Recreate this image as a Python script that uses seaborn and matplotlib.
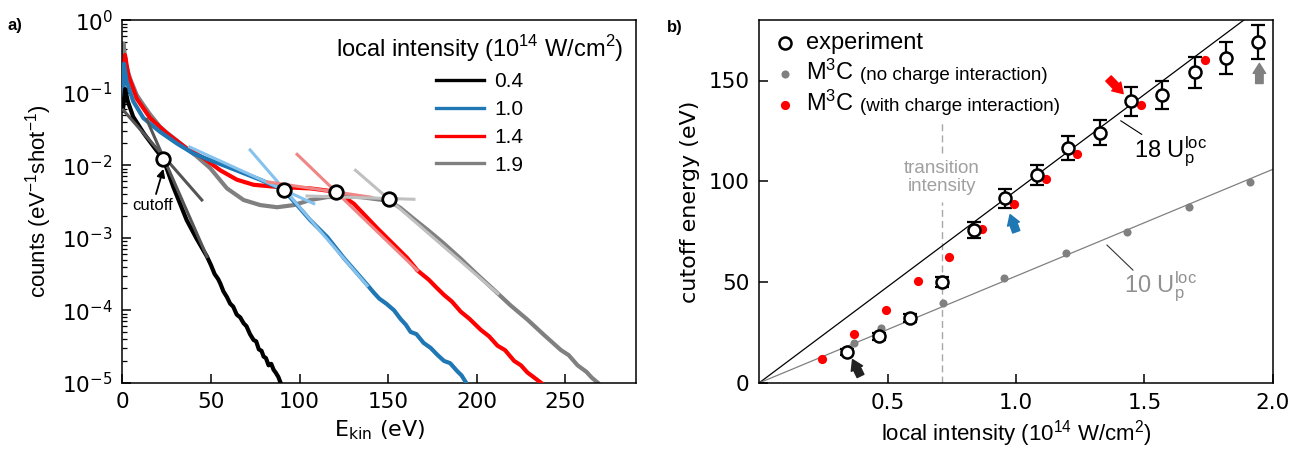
import matplotlib
matplotlib.use("Agg")
import matplotlib.pyplot as plt
import matplotlib.transforms as mtransforms
import numpy as np
import seaborn as sns
from matplotlib.lines import Line2D
from matplotlib.font_manager import FontProperties

# ---- panel a) photoelectron spectra (E in eV, log10 of counts)
E_04 = [0.2, 1.5, 3.0, 6.0, 12.0, 19.0, 23.0, 28.7, 36.3, 42.0, 47.7, 50.0, 52.0, 54.0, 55.2,
        57.0, 59.0, 60.8, 62.5, 64.5, 66.5, 68.4, 70.0, 72.0, 74.0, 75.5, 77.0, 78.5, 79.7, 81.0,
        82.5, 84.0, 85.3, 86.5, 88.0, 89.1]
L_04 = [-1.25, -0.95, -1.12, -1.33, -1.56, -1.79, -1.91, -2.30, -2.76, -3.02, -3.26, -3.38, -3.50,
        -3.57, -3.63, -3.74, -3.82, -3.91, -3.95, -4.06, -4.10, -4.18, -4.22, -4.33, -4.41, -4.43,
        -4.54, -4.56, -4.64, -4.66, -4.76, -4.74, -4.82, -4.86, -4.92, -4.99]
E_10 = [0.2, 0.85, 2.4, 6.1, 11.8, 21.2, 30.7, 40.1, 49.5, 59.0, 68.4, 77.8, 91.0, 98.6, 106.1,
        115.6, 125.0, 138.2, 142.0, 145.0, 149.0, 153.3, 157.0, 160.0, 162.7, 166.0, 170.0, 174.0,
        178.0, 181.6, 185.0, 189.0, 191.5, 193.8]
L_10 = [-1.22, -0.60, -0.85, -1.12, -1.35, -1.54, -1.70, -1.84, -1.93, -2.02, -2.11, -2.20, -2.34,
        -2.55, -2.76, -2.99, -3.28, -3.65, -3.76, -3.84, -3.91, -4.00, -4.12, -4.20, -4.30, -4.33,
        -4.45, -4.52, -4.62, -4.70, -4.73, -4.84, -4.90, -4.99]
E_14 = [0.2, 1.4, 3.3, 8.0, 15.6, 25.0, 36.3, 45.7, 55.2, 64.6, 74.0, 87.3, 106.1, 120.3, 130.6,
        143.9, 160.8, 166.5, 173.0, 177.0, 181.6, 186.0, 191.0, 196.0, 202.3, 207.0, 211.8, 216.0,
        221.2, 225.0, 228.7, 232.0, 236.3]
L_14 = [-0.99, -0.48, -0.76, -1.08, -1.35, -1.56, -1.77, -1.90, -2.07, -2.20, -2.27, -2.30, -2.32,
        -2.365, -2.53, -2.87, -3.28, -3.45, -3.58, -3.68, -3.79, -3.88, -4.02, -4.12, -4.27, -4.36,
        -4.49, -4.55, -4.70, -4.76, -4.86, -4.92, -5.00]
E_19 = [0.1, 0.5, 2.0, 4.2, 8.0, 11.8, 15.6, 21.2, 25.0, 30.7, 36.3, 42.0, 49.5, 59.0, 68.4, 77.8,
        87.3, 96.7, 106.1, 115.6, 125.0, 134.4, 143.9, 150.4, 157.0, 164.0, 172.2, 181.0, 191.0,
        200.0, 209.8, 219.0, 228.7, 238.0, 247.6, 252.0, 257.0, 262.0, 265.0, 268.4]
L_19 = [-1.15, -0.32, -0.62, -0.80, -1.03, -1.17, -1.30, -1.47, -1.55, -1.66, -1.77, -1.88, -2.04,
        -2.32, -2.48, -2.55, -2.58, -2.55, -2.48, -2.44, -2.43, -2.44, -2.47, -2.49, -2.59, -2.73,
        -2.89, -3.07, -3.29, -3.50, -3.72, -3.93, -4.13, -4.34, -4.55, -4.62, -4.76, -4.85, -4.93,
        -5.00]

# straight-line fits (two end points each) and their crossing = cutoff
fit_lo_E = [[0.45, 44.8], [38.0, 108.0], [82.0, 140.0], [104.2, 164.6]]
fit_lo_L = [[-1.24, -2.48], [-1.75, -2.53], [-2.23, -2.44], [-2.425, -2.47]]
fit_hi_E = [[13.7, 47.7], [72.1, 138.2], [98.6, 166.5], [131.6, 212.0]]
fit_hi_L = [[-1.37, -3.26], [-1.79, -3.66], [-1.85, -3.45], [-2.07, -3.77]]
cut_E = [23.1, 91.0, 120.3, 150.4]
cut_L = [-1.914, -2.344, -2.365, -2.466]

labels_a = ["0.4", "1.0", "1.4", "1.9"]
colors_a = ["black", "#1f77b4", "#ff0000", "#808080"]
fit_colors = ["#555555", "#86c2ee", "#f08585", "#c0c0c0"]

# ---- panel b) cutoff energy vs local intensity
I_exp = [0.344, 0.465, 0.586, 0.712, 0.836, 0.957, 1.081, 1.203, 1.327, 1.449, 1.570, 1.695, 1.819, 1.943]
E_exp = [15.4, 23.2, 32.3, 50.2, 75.8, 91.6, 103.1, 116.6, 124.2, 139.6, 142.9, 154.1, 161.1, 169.0]
E_err = [1.5, 1.8, 1.9, 2.6, 3.8, 4.6, 5.1, 5.8, 6.1, 7.0, 7.1, 7.7, 8.1, 8.5]
I_nq = [0.371, 0.476, 0.717, 0.954, 1.193, 1.433, 1.672, 1.911]
E_nq = [20.0, 27.3, 39.9, 52.3, 64.7, 74.8, 87.4, 99.8]
I_q = [0.247, 0.371, 0.496, 0.620, 0.741, 0.869, 0.991, 1.115, 1.237, 1.487, 1.736]
E_q = [12.1, 24.5, 36.3, 50.5, 62.7, 76.3, 88.7, 101.3, 113.7, 137.9, 160.3]
up_per_I = 5.3          # eV per 1e14 W/cm^2
I_line = [0.0, 2.0]
I_trans = 0.712

plt.rcParams.update({
    "xtick.direction": "in", "ytick.direction": "in",
    "xtick.major.size": 6.5, "ytick.major.size": 6.5,
    "ytick.minor.size": 3.4, "xtick.major.width": 1.1, "ytick.major.width": 1.1,
    "ytick.minor.width": 0.9, "axes.linewidth": 1.1,
    "xtick.major.pad": 7, "ytick.major.pad": 7,
    "xtick.labelsize": 15.5, "ytick.labelsize": 15.5,
})
LS = "Liberation Sans"

fig = plt.figure(figsize=(12.99, 4.5), dpi=100)
ax1 = fig.add_axes([122.5 / 1299, 1 - 382.7 / 450, (636 - 122.5) / 1299, (382.7 - 20.2) / 450])
ax2 = fig.add_axes([759 / 1299, 1 - 383 / 450, (1273 - 759) / 1299, (383 - 20) / 450])

# ---------------- a)
spectra = [(E_04, L_04), (E_10, L_10), (E_14, L_14), (E_19, L_19)]
zs = [5, 4, 3, 2]
for (E, L), c, z in zip(spectra, colors_a, zs):
    sns.lineplot(x=E, y=10 ** np.array(L), ax=ax1, color=c, lw=3.0, zorder=z)
for i in range(4):
    for Es, Ls in ((fit_lo_E, fit_lo_L), (fit_hi_E, fit_hi_L)):
        sns.lineplot(x=Es[i], y=10 ** np.array(Ls[i]), ax=ax1, color=fit_colors[i], lw=2.2, zorder=6)
sns.scatterplot(x=cut_E, y=10 ** np.array(cut_L), ax=ax1, s=95, color="white",
                edgecolor="black", linewidth=2.0, zorder=8)
ax1.set_yscale("log")
ax1.set_xlim(0, 290)
ax1.set_ylim(1e-5, 1)
ax1.set_xticks([0, 50, 100, 150, 200, 250])
ax1.tick_params(which="both", top=False, right=False)
ax1.set_xlabel("E$_{\\mathregular{kin}}$ (eV)", fontsize=16, labelpad=4)
ax1.set_ylabel("counts (eV$^{\\mathregular{-1}}$shot$^{\\mathregular{-1}}$)", fontsize=16,
               family=LS, labelpad=6)
ax1.annotate("cutoff", xy=(23.1, 10 ** -2.05), xytext=(17, 10 ** -2.62), ha="center",
             fontsize=12, family=LS,
             arrowprops=dict(arrowstyle="-|>", color="black", lw=1.3, mutation_scale=12,
                             shrinkA=1, shrinkB=0))
handles = [Line2D([], [], color=c, lw=2.4) for c in colors_a]
leg1 = ax1.legend(handles, labels_a, loc="upper right", frameon=False,
                  title="local intensity (10$^{\\mathregular{14}}$ W/cm$^{\\mathregular{2}}$)",
                  title_fontproperties=FontProperties(family=LS, size=17),
                  prop=FontProperties(family=LS, size=15), handlelength=2.3,
                  handletextpad=0.5, labelspacing=0.42, borderaxespad=0.2)

# ---------------- b)
ax2.plot(I_line, [18 * up_per_I * v for v in I_line], color="black", lw=0.9, zorder=1)
ax2.plot(I_line, [10 * up_per_I * v for v in I_line], color="#808080", lw=0.9, zorder=1)
ax2.plot([I_trans, I_trans], [0, 90], color="#a8a8a8", lw=1.0, ls=(0, (5, 3)), zorder=0)
ax2.plot([I_trans, I_trans], [114, 130], color="#a8a8a8", lw=1.0, ls=(0, (5, 3)), zorder=0)
ax2.text(I_trans, 102, "transition\nintensity", ha="center", va="center", color="#a0a0a0",
         fontsize=13.5, family=LS, linespacing=1.05)
ax2.errorbar(I_exp, E_exp, yerr=E_err, fmt="none", ecolor="black", elinewidth=1.6,
             capsize=5, capthick=1.6, zorder=3)
sns.scatterplot(x=I_nq, y=E_nq, ax=ax2, color="#808080", s=34, linewidth=0, zorder=4,
                label="M$\\mathregular{^3}$C")
sns.scatterplot(x=I_q, y=E_q, ax=ax2, color="#ff0000", s=44, linewidth=0, zorder=4,
                label="M$\\mathregular{^3}$C ")
sns.scatterplot(x=I_exp, y=E_exp, ax=ax2, color="white", edgecolor="black", s=75,
                linewidth=1.8, zorder=5, label="experiment")
ax2.set_xlim(0, 2.0)
ax2.set_ylim(0, 180)
ax2.set_xticks([0.5, 1.0, 1.5, 2.0])
ax2.set_yticks([0, 50, 100, 150])
ax2.tick_params(which="both", top=False, right=False)
ax2.set_xlabel("local intensity (10$^{\\mathregular{14}}$ W/cm$^{\\mathregular{2}}$)",
               fontsize=16, family=LS, labelpad=4)
ax2.set_ylabel("cutoff energy (eV)", fontsize=16, labelpad=6)

# leader lines and scaling labels
ax2.plot([1.408, 1.489], [130, 123.3], color="black", lw=0.8)
ax2.text(1.46, 112, "18 $\\mathregular{U_p^{loc}}$", fontsize=17, family=LS)
ax2.plot([1.354, 1.455], [68.4, 56], color="#333333", lw=0.8)
ax2.text(1.42, 45, "10 $\\mathregular{U_p^{loc}}$", fontsize=17, family=LS, color="#909090")

# small arrows pointing at the spectra shown in a)
arrows = [((0.395, 3.5), (0.364, 11.6), "#222222"), ((1.001, 75.0), (0.977, 83.5), "#1f77b4"),
          ((1.360, 151.0), (1.417, 143.5), "#ff0000"), ((1.947, 148.5), (1.947, 158.5), "#808080")]
for tail, tip, c in arrows:
    ax2.annotate("", xy=tip, xytext=tail,
                 arrowprops=dict(arrowstyle="simple,head_length=0.6,head_width=0.75,tail_width=0.45",
                                 color=c, mutation_scale=12, shrinkA=0, shrinkB=0))

h, l = ax2.get_legend_handles_labels()
order = [2, 0, 1]
leg2 = ax2.legend([h[i] for i in order], ["experiment", "M$\\mathregular{^3}$C", "M$\\mathregular{^3}$C"],
                  loc="upper left", frameon=False, prop=FontProperties(family=LS, size=17),
                  handletextpad=0.3, labelspacing=0.25, borderaxespad=0.1, handlelength=1.2)

fig.text(8 / 1299, 1 - 30 / 450, "a)", fontsize=12, weight="bold", family=LS)
fig.text(667 / 1299, 1 - 32 / 450, "b)", fontsize=12, weight="bold", family=LS)

# parenthetical parts of the legend labels in a smaller font
fig.canvas.draw()
for t, extra in zip(leg2.get_texts()[1:], ["(no charge interaction)", "(with charge interaction)"]):
    bb = t.get_window_extent()
    x0, y0 = t.get_transform().transform((0, 0))
    fig.text(bb.x1 + 6, y0, extra, fontsize=13.5, family=LS, va="baseline",
             transform=mtransforms.IdentityTransform())

fig.savefig("out.png", dpi=100)
